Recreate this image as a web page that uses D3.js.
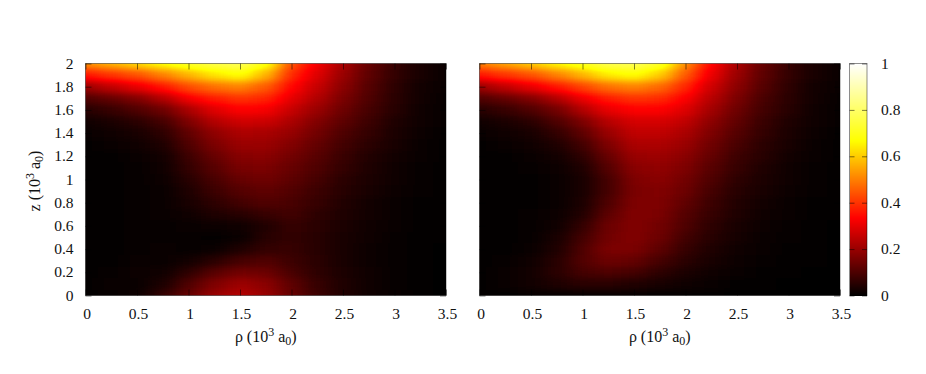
<!DOCTYPE html>
<html>
<head>
<meta charset="utf-8">
<script src="https://cdn.jsdelivr.net/npm/d3@7"></script>
<style>
body { margin: 0; background: #fff; }
text { font-family: "Liberation Serif", serif; fill: #111; }
</style>
</head>
<body>
<svg id="chart" width="926" height="374"></svg>
<script>
const rhoValues = [0, 0.25, 0.5, 0.75, 1, 1.25, 1.5, 1.75, 2, 2.25, 2.5, 2.75, 3, 3.25, 3.5]
const zValues = [2, 1.9, 1.8, 1.7, 1.6, 1.5, 1.4, 1.3, 1.2, 1.1, 1, 0.9, 0.8, 0.7, 0.6, 0.5, 0.4, 0.3, 0.2, 0.1, 0]

const rhoTicks = [0, 0.5, 1, 1.5, 2, 2.5, 3, 3.5]
const zTicks = [0, 0.2, 0.4, 0.6, 0.8, 1, 1.2, 1.4, 1.6, 1.8, 2]
const barTicks = [0, 0.2, 0.4, 0.6, 0.8, 1]

// rows go from z=2 down to z=0, columns follow rhoValues
const leftValues = [
	[.52,.57,.62,.67,.72,.76,.78,.69,.44,.32,.22,.13,.07,.03,.01],
	[.36,.40,.44,.50,.57,.63,.67,.57,.39,.29,.20,.12,.065,.03,.01],
	[.20,.25,.30,.36,.43,.48,.50,.45,.34,.26,.18,.11,.06,.025,.01],
	[.10,.13,.17,.23,.32,.37,.40,.38,.30,.23,.16,.10,.055,.025,.008],
	[.05,.07,.10,.14,.22,.29,.33,.32,.26,.20,.14,.09,.05,.02,.007],
	[.02,.035,.055,.09,.165,.235,.27,.265,.225,.17,.12,.08,.04,.02,.006],
	[.01,.02,.03,.06,.125,.19,.225,.22,.195,.15,.10,.065,.035,.015,.005],
	[.005,.01,.02,.04,.10,.16,.20,.20,.17,.13,.085,.055,.03,.012,.004],
	[.003,.005,.012,.025,.08,.135,.175,.18,.15,.115,.075,.045,.025,.01,.003],
	[.002,.003,.008,.018,.065,.115,.155,.16,.135,.10,.065,.04,.02,.008,.003],
	[.002,.003,.006,.014,.05,.095,.135,.145,.12,.09,.055,.035,.018,.007,.002],
	[.002,.003,.006,.012,.04,.08,.11,.125,.105,.08,.05,.03,.016,.006,.002],
	[.002,.003,.006,.01,.03,.06,.085,.105,.095,.07,.043,.025,.013,.005,.002],
	[.002,.003,.006,.01,.02,.04,.05,.07,.085,.06,.038,.022,.011,.004,.002],
	[.002,.003,.006,.008,.01,.015,.02,.045,.07,.055,.035,.02,.01,.004,.002],
	[.002,.003,.007,.008,.006,.005,.012,.05,.065,.05,.032,.018,.009,.004,.002],
	[.002,.004,.008,.01,.006,.012,.04,.065,.07,.05,.03,.017,.008,.003,.001],
	[.002,.005,.011,.012,.025,.055,.09,.105,.08,.055,.03,.017,.008,.003,.001],
	[.002,.008,.015,.018,.06,.115,.15,.14,.095,.06,.035,.018,.008,.003,.001],
	[.002,.01,.012,.035,.10,.165,.205,.18,.12,.07,.04,.02,.009,.003,.001],
	[.002,.006,.015,.065,.135,.20,.235,.20,.135,.08,.045,.02,.01,.003,.001],
]

const rightValues = [
	[.50,.55,.60,.66,.71,.77,.78,.72,.52,.34,.22,.13,.07,.03,.01],
	[.36,.40,.44,.50,.57,.64,.67,.60,.45,.31,.20,.12,.065,.03,.01],
	[.20,.25,.30,.36,.42,.48,.50,.47,.38,.27,.18,.11,.06,.025,.01],
	[.10,.13,.17,.23,.31,.37,.40,.39,.33,.24,.16,.095,.055,.025,.008],
	[.05,.07,.10,.15,.23,.30,.33,.33,.29,.21,.14,.085,.05,.02,.007],
	[.02,.035,.055,.10,.16,.24,.28,.28,.25,.185,.125,.075,.04,.02,.006],
	[.01,.02,.03,.065,.12,.20,.25,.25,.225,.165,.11,.065,.035,.015,.005],
	[.005,.01,.018,.04,.085,.165,.225,.225,.20,.145,.095,.055,.03,.012,.004],
	[.003,.005,.01,.025,.06,.135,.20,.205,.18,.13,.08,.05,.025,.01,.003],
	[.002,.003,.007,.015,.04,.11,.18,.19,.165,.115,.07,.04,.02,.008,.003],
	[.002,.003,.005,.012,.03,.09,.165,.18,.15,.10,.06,.035,.018,.007,.002],
	[.002,.003,.005,.012,.03,.09,.16,.17,.14,.09,.052,.03,.015,.006,.002],
	[.002,.003,.005,.013,.035,.10,.165,.165,.125,.08,.045,.025,.012,.005,.002],
	[.002,.003,.006,.016,.045,.12,.17,.16,.11,.07,.04,.02,.01,.004,.002],
	[.002,.003,.007,.02,.065,.14,.17,.15,.10,.06,.032,.017,.008,.003,.001],
	[.002,.003,.009,.03,.085,.15,.17,.14,.085,.05,.026,.013,.006,.003,.001],
	[.002,.004,.012,.04,.10,.16,.16,.12,.07,.04,.02,.01,.005,.002,.001],
	[.002,.006,.018,.05,.105,.14,.13,.09,.055,.03,.015,.007,.003,.002,.001],
	[.003,.01,.025,.055,.09,.10,.09,.06,.035,.02,.01,.005,.002,.001,.001],
	[.003,.012,.025,.04,.055,.055,.045,.03,.018,.01,.005,.003,.001,.001,0],
	[.002,.004,.006,.008,.008,.008,.006,.005,.003,.002,.001,.001,0,0,0],
]

const dimensions = {
	top: 63.5,
	bottom: 295.5,
	leftPanel: [85.5, 446],
	rightPanel: [479.5, 840],
	bar: [849.5, 867],
}

const svg = d3.select("#chart")

const yScale = d3.scaleLinear().domain([0, 2]).range([dimensions.bottom, dimensions.top])
const barScale = d3.scaleLinear().domain([0, 1]).range([dimensions.bottom, dimensions.top])
const grayScale = d3.scaleLinear().domain([0, 1]).range(["#000", "#fff"])
// same stops as the filter table below
const hotScale = d3.scaleLinear().domain([0, 1/3, 2/3, 1]).range(["#000", "#f00", "#ff0", "#fff"])

// cells are painted as gray levels, blurred, then mapped through the colour table
const defs = svg.append("defs")
const filter = defs.append("filter")
	.attr("id", "hot")
	.attr("filterUnits", "userSpaceOnUse")
	.attr("x", 0).attr("y", 0).attr("width", 926).attr("height", 374)
	.attr("color-interpolation-filters", "sRGB")
filter.append("feGaussianBlur").attr("stdDeviation", "9 3.6")
const transfer = filter.append("feComponentTransfer")
transfer.append("feFuncR").attr("type", "table").attr("tableValues", "0 1 1 1")
transfer.append("feFuncG").attr("type", "table").attr("tableValues", "0 0 1 1")
transfer.append("feFuncB").attr("type", "table").attr("tableValues", "0 0 0 1")

function fmt(d) { return String(d) }

function drawTicks(panel, xScale) {
	const xr = xScale.range()
	panel.append("g").attr("transform", `translate(0,${dimensions.bottom})`)
		.call(d3.axisBottom(xScale).tickValues(rhoTicks).tickSize(-6).tickFormat(""))
	panel.append("g").attr("transform", `translate(0,${dimensions.top})`)
		.call(d3.axisTop(xScale).tickValues(rhoTicks).tickSize(-6).tickFormat(""))
	panel.append("g").attr("transform", `translate(${xr[0]},0)`)
		.call(d3.axisLeft(yScale).tickValues(zTicks).tickSize(-6).tickFormat(""))
	panel.append("g").attr("transform", `translate(${xr[1]},0)`)
		.call(d3.axisRight(yScale).tickValues(zTicks).tickSize(-6).tickFormat(""))
	panel.selectAll(".domain").remove()
	panel.selectAll(".tick line").attr("stroke", "#000").attr("stroke-opacity", 0.5)
}

function drawBorder(g, x0, x1) {
	g.append("rect")
		.attr("x", x0).attr("y", dimensions.top)
		.attr("width", x1 - x0).attr("height", dimensions.bottom - dimensions.top)
		.attr("fill", "none").attr("stroke", "#000").attr("stroke-opacity", 0.45)
}

function addTitle(text, name) {
	text.append("tspan").text(name + " (10")
	text.append("tspan").attr("dy", -6).attr("font-size", "12px").text("3")
	text.append("tspan").attr("dy", 6).text(" a")
	text.append("tspan").attr("dy", 3).attr("font-size", "12px").text("0")
	text.append("tspan").attr("dy", -3).text(")")
}

function drawPanel(range, values, id) {
	const xScale = d3.scaleLinear().domain([0, 3.5]).range(range)
	const colStep = xScale(0.25) - xScale(0)
	const rowStep = yScale(0) - yScale(0.1)
	const pad = 40

	defs.append("clipPath").attr("id", id)
		.append("rect")
		.attr("x", range[0]).attr("y", dimensions.top)
		.attr("width", range[1] - range[0]).attr("height", dimensions.bottom - dimensions.top)

	const panel = svg.append("g")
	const cells = []
	values.forEach((row, r) => row.forEach((v, c) => cells.push({ r, c, v })))

	panel.append("g").attr("clip-path", `url(#${id})`)
		.append("g").attr("filter", "url(#hot)")
		.selectAll("rect")
		.data(cells)
		.enter()
		.append("rect")
		.attr("shape-rendering", "crispEdges")
		// outer cells run past the frame so the blur has nothing transparent to pull in
		.attr("x", d => xScale(rhoValues[d.c]) - colStep / 2 - (d.c == 0 ? pad : 0))
		.attr("y", d => yScale(zValues[d.r]) - rowStep / 2 - (d.r == 0 ? pad : 0))
		.attr("width", d => colStep + (d.c == 0 || d.c == rhoValues.length - 1 ? pad : 0))
		.attr("height", d => rowStep + (d.r == 0 || d.r == zValues.length - 1 ? pad : 0))
		.attr("fill", d => grayScale(d.v))

	drawTicks(panel, xScale)
	drawBorder(panel, range[0], range[1])

	panel.selectAll("text.xlabel")
		.data(rhoTicks)
		.enter()
		.append("text")
		.attr("class", "xlabel")
		.attr("x", d => xScale(d) + 1.5)
		.attr("y", 319)
		.attr("text-anchor", "middle")
		.attr("font-size", "15.5px")
		.text(fmt)

	const title = panel.append("text")
		.attr("x", (range[0] + range[1]) / 2)
		.attr("y", 342)
		.attr("text-anchor", "middle")
		.attr("font-size", "16px")
	addTitle(title, "ρ")
}

drawPanel(dimensions.leftPanel, leftValues, "clipLeft")
drawPanel(dimensions.rightPanel, rightValues, "clipRight")

// z labels only on the left panel
svg.append("g").selectAll("text")
	.data(zTicks)
	.enter()
	.append("text")
	.attr("x", 73.5)
	.attr("y", d => yScale(d) + 5)
	.attr("text-anchor", "end")
	.attr("font-size", "15.5px")
	.text(fmt)

const zTitle = svg.append("text")
	.attr("transform", `translate(40,181) rotate(-90)`)
	.attr("text-anchor", "middle")
	.attr("font-size", "16px")
addTitle(zTitle, "z")

// colour bar
const barLevels = d3.range(0, 233).map(i => i / 232)
const bar = svg.append("g")
bar.selectAll("rect")
	.data(barLevels)
	.enter()
	.append("rect")
	.attr("shape-rendering", "crispEdges")
	.attr("x", dimensions.bar[0])
	.attr("y", d => barScale(d) - 1)
	.attr("width", dimensions.bar[1] - dimensions.bar[0])
	.attr("height", 1.5)
	.attr("fill", d => hotScale(d))

bar.append("g").attr("transform", `translate(${dimensions.bar[0]},0)`)
	.call(d3.axisLeft(barScale).tickValues(barTicks).tickSize(-5).tickFormat(""))
bar.append("g").attr("transform", `translate(${dimensions.bar[1]},0)`)
	.call(d3.axisRight(barScale).tickValues(barTicks).tickSize(-5).tickFormat(""))
bar.selectAll(".domain").remove()
bar.selectAll(".tick line").attr("stroke", "#000").attr("stroke-opacity", 0.5)
drawBorder(bar, dimensions.bar[0], dimensions.bar[1])

bar.append("g").selectAll("text")
	.data(barTicks)
	.enter()
	.append("text")
	.attr("x", 881)
	.attr("y", d => barScale(d) + 5)
	.attr("font-size", "15.5px")
	.text(fmt)
</script>
</body>
</html>
